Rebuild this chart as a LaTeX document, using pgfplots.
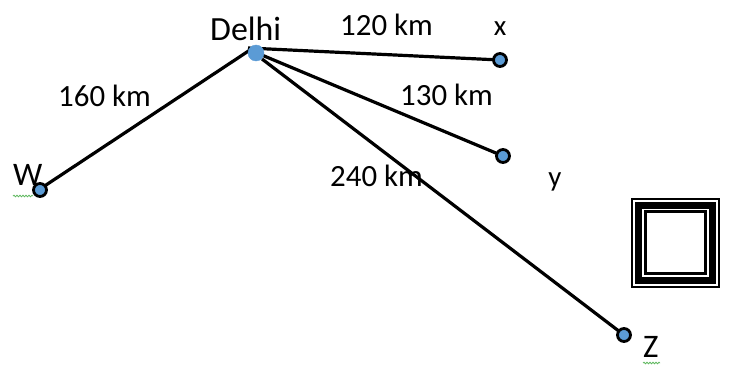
\documentclass[border=0pt]{standalone}
\usepackage{fontspec}
\setmainfont{Carlito}
\usepackage{pgfplots}
\pgfplotsset{compat=1.18}
\usetikzlibrary{decorations.pathmorphing}
\definecolor{ptblue}{HTML}{5B9BD5}
\definecolor{squig}{HTML}{5FB85F}
\begin{document}
\begin{tikzpicture}
\begin{axis}[
  width=731bp, height=366bp, scale only axis,
  xmin=0, xmax=731, ymin=0, ymax=366, y dir=reverse,
  hide axis, clip=false,
]
% invisible frame to fix bounding box
\addplot[draw=none, mark=none] coordinates {(0,0) (731,366)};
% Delhi marker (under the lines)
\addplot[only marks, mark=*, mark size=8bp, mark options={fill=ptblue, draw=ptblue}] coordinates {(256,53)};
% roads
\addplot[black, line width=3.2bp, mark=none] coordinates {(248,48) (500,60)};
\addplot[black, line width=3.2bp, mark=none] coordinates {(250,50) (40,189)};
\addplot[black, line width=3.2bp, mark=none] coordinates {(257,53) (503,156)};
\addplot[black, line width=3.2bp, mark=none] coordinates {(262,59) (624,335)};
% towns
\addplot[only marks, mark=*, mark size=6.5bp, mark options={fill=ptblue, draw=black, line width=2.8bp}] coordinates {(500,60) (503,156) (40,190) (624,335)};
% double frame square
\addplot[black, line width=2bp, mark=none] coordinates {(675,199) (719,199) (719,287) (632,287) (632,199) (676,199)};
\addplot[black, line width=7bp, mark=none] coordinates {(675,205) (712.5,205) (712.5,280.5) (638.5,280.5) (638.5,205) (676,205)};
\addplot[black, line width=3bp, mark=none] coordinates {(675,211.5) (705.5,211.5) (705.5,273.5) (645.5,273.5) (645.5,211.5) (676,211.5)};
% spell-check squiggles
\addplot[squig, line width=0.8bp, mark=none, decorate, decoration={snake, amplitude=0.8bp, segment length=3bp}] coordinates {(13,196) (33,196)};
\addplot[squig, line width=0.8bp, mark=none, decorate, decoration={snake, amplitude=0.8bp, segment length=3bp}] coordinates {(643,363) (660,363)};
% labels
\node[anchor=base west, inner sep=0pt, font=\fontsize{34}{36}\selectfont] at (axis cs:210,40) {Delhi};
\node[anchor=base west, inner sep=0pt, font=\fontsize{31}{32}\selectfont] at (axis cs:340,35) {120 km};
\node[anchor=base, inner sep=0pt, font=\fontsize{29}{32}\selectfont] at (axis cs:500,35) {x};
\node[anchor=base west, inner sep=0pt, font=\fontsize{31}{32}\selectfont] at (axis cs:58,106) {160 km};
\node[anchor=base west, inner sep=0pt, font=\fontsize{31}{32}\selectfont] at (axis cs:400,105) {130 km};
\node[anchor=base west, inner sep=0pt, font=\fontsize{31}{32}\selectfont] at (axis cs:330,186) {240 km};
\node[anchor=base, inner sep=0pt, font=\fontsize{29}{32}\selectfont] at (axis cs:555,186) {y};
\node[anchor=base west, inner sep=0pt, font=\fontsize{33}{36}\selectfont] at (axis cs:13,185) {W};
\node[anchor=base west, inner sep=0pt, font=\fontsize{33}{36}\selectfont] at (axis cs:643,357) {Z};
\end{axis}
\end{tikzpicture}
\end{document}
